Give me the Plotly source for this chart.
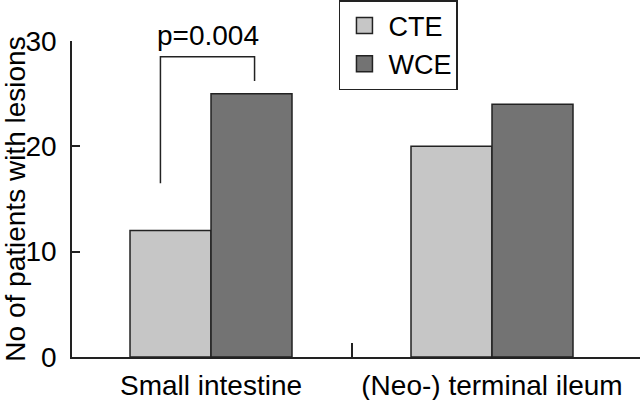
import plotly.graph_objects as go

categories = ["Small intestine", "(Neo-) terminal ileum"]
series_names = ["CTE", "WCE"]
cte = [12, 20]
wce = [25, 24]
y_ticks = [0, 10, 20, 30]
p_label = "p=0.004"
bracket_x = [-0.18, -0.18, 0.155, 0.155]
bracket_y = [16.5, 28.5, 28.5, 26.2]

colors = ["#c6c6c6", "#737373"]
edge = "#222222"
FONT = "Liberation Sans"
FS = 28

x_pos = list(range(len(categories)))

fig = go.Figure()
for name, vals, col in zip(series_names, [cte, wce], colors):
    fig.add_trace(go.Bar(
        x=x_pos, y=vals, name=name, showlegend=False,
        marker=dict(color=col, line=dict(color=edge, width=1.5)),
    ))
# legend entries with larger swatches
for name, col in zip(series_names, colors):
    fig.add_trace(go.Scatter(
        x=[None], y=[None], mode="markers", name=name,
        marker=dict(symbol="square", size=16, color=col, line=dict(color=edge, width=1.5)),
    ))

# significance bracket
fig.add_trace(go.Scatter(
    x=bracket_x, y=bracket_y, mode="lines", showlegend=False,
    line=dict(color=edge, width=1.5), cliponaxis=False, hoverinfo="skip",
))
fig.add_annotation(
    x=(bracket_x[0] + bracket_x[-1]) / 2, y=bracket_y[1], text=p_label,
    showarrow=False, yanchor="bottom", xanchor="center", yshift=4,
    font=dict(family=FONT, size=FS, color="black"),
)

fig.update_layout(
    width=640, height=400,
    margin=dict(l=72, r=0, t=41, b=43),
    plot_bgcolor="white", paper_bgcolor="white",
    barmode="group", bargap=0.4235, bargroupgap=0,
    font=dict(family=FONT, size=FS, color="black"),
    legend=dict(
        x=0.470, y=1.13, xanchor="left", yanchor="top",
        bordercolor=edge, borderwidth=1.5, bgcolor="white",
        font=dict(family=FONT, size=27, color="black"),
        itemwidth=38, entrywidth=62,
    ),
)
fig.update_xaxes(
    range=[-0.4947, 1.5267], tickmode="array", tickvals=x_pos, ticktext=categories,
    showline=True, linecolor=edge, linewidth=1.5, showgrid=False, zeroline=False,
    ticks="", ticklabelstandoff=3,
    minor=dict(tickmode="array", tickvals=[0.5], ticks="inside", ticklen=14,
               tickcolor=edge, tickwidth=1.5, showgrid=False),
)
fig.update_yaxes(
    range=[0, 30], tickmode="array", tickvals=y_ticks,
    showline=True, linecolor=edge, linewidth=1.5, showgrid=False, zeroline=False,
    ticks="inside", ticklen=8, tickcolor=edge, tickwidth=1.5,
    title=dict(text="No of patients with lesions", standoff=4, font=dict(size=28)),
    ticklabelstandoff=8,
)

fig.write_html(
    "out.html",
    config={"displayModeBar": False},
    post_script="document.body.style.margin='0';document.body.style.padding='0';",
)
